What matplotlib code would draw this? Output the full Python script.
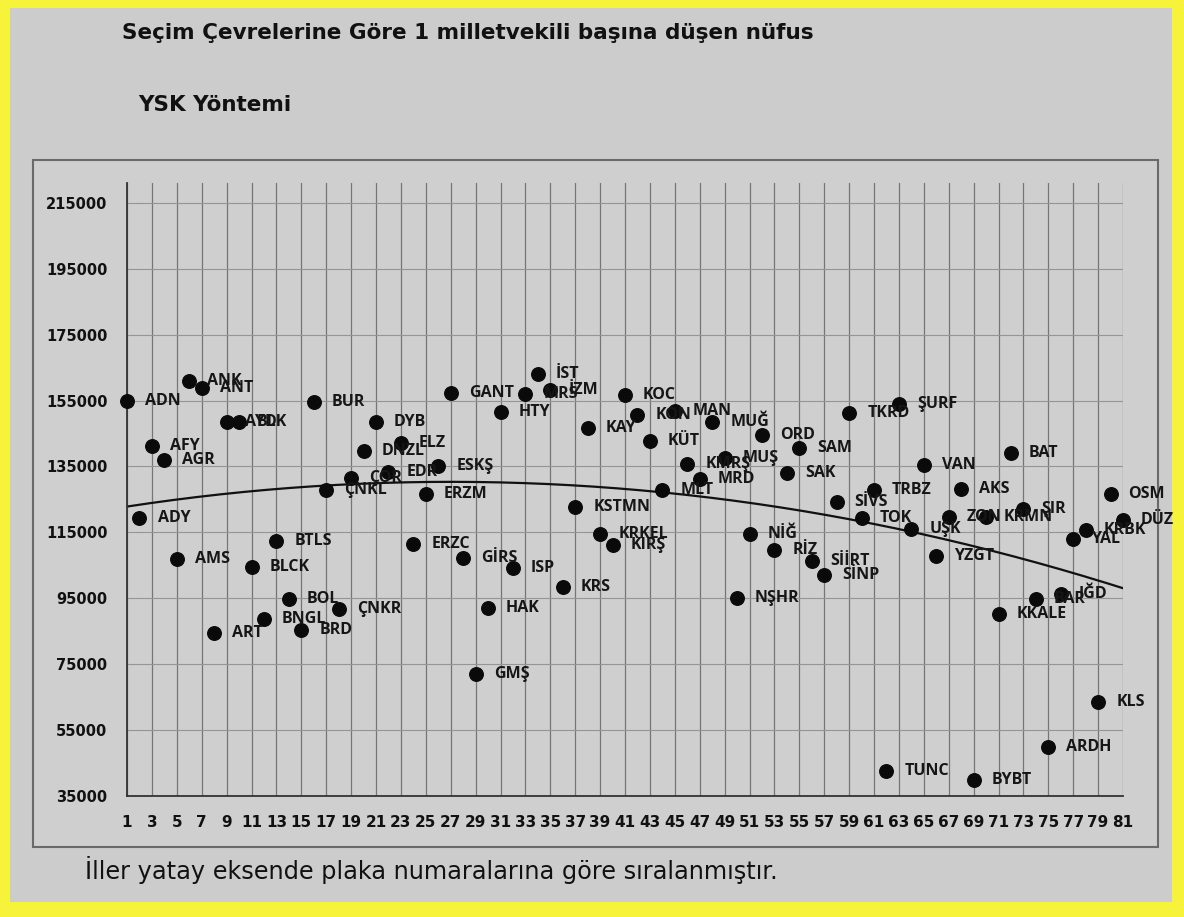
import numpy as np
import matplotlib
matplotlib.use("Agg")
import matplotlib.pyplot as plt
from matplotlib.patches import Rectangle

# ---- data ----
plate = list(range(1, 82))
codes = ["ADN","ADY","AFY","AGR","AMS","ANK","ANT","ART","AYD","BLK",
         "BLCK","BNGL","BTLS","BOL","BRD","BUR","ÇNKL","ÇNKR","ÇOR","DNZL",
         "DYB","EDR","ELZ","ERZC","ERZM","ESKŞ","GANT","GİRS","GMŞ","HAK",
         "HTY","ISP","MRS","İST","İZM","KRS","KSTMN","KAY","KRKEL","KIRŞ",
         "KOC","KON","KÜT","MLT","MAN","KMRŞ","MRD","MUĞ","MUŞ","NŞHR",
         "NİĞ","ORD","RİZ","SAK","SAM","SİİRT","SİNP","SİVS","TKRD","TOK",
         "TRBZ","TUNC","ŞURF","UŞK","VAN","YZGT","ZON","AKS","BYBT","KRMN",
         "KKALE","BAT","ŞIR","BAR","ARDH","IĞD","YAL","KRBK","KLS","OSM","DÜZ"]
pop_per_mp = [155000,119400,141200,137000,107000,161000,158800,84500,148500,148500,
              104500,88700,112400,94800,85400,154600,127900,91700,131500,139700,
              148500,133300,142100,111500,126700,135200,157300,107200,72000,92000,
              151600,104200,157000,163100,158200,98400,122700,146700,114500,111200,
              156700,150600,142700,127900,151900,135800,131200,148600,137600,95100,
              114500,144600,109700,133000,140600,106300,102100,124200,151200,119400,
              127900,42600,154000,116000,135500,107800,119700,128200,39800,119700,
              90200,139100,122100,94800,49900,96300,113000,115700,63500,126700,118800]
x_ticks = list(range(1, 82, 2))
y_ticks = list(range(35000, 215001, 20000))

title = "Seçim Çevrelerine Göre 1 milletvekili başına düşen nüfus"
subtitle = "YSK Yöntemi"
footer = "İller yatay eksende plaka numaralarına göre sıralanmıştır."

W, H = 1184, 917
fig = plt.figure(figsize=(W/100, H/100), dpi=100)
fig.patch.set_facecolor("#f7f23a")

def px_rect(x0, y0, x1, y1, **kw):
    return Rectangle((x0/W, 1-y1/H), (x1-x0)/W, (y1-y0)/H, transform=fig.transFigure, **kw)

fig.patches.append(px_rect(10, 8, 1172, 902, facecolor="#cccccc", edgecolor="none", zorder=-3))
fig.patches.append(px_rect(33, 160, 1158, 847, facecolor="#cfcfcf", edgecolor="#6a6a6a", lw=1.5, zorder=-2))

ax = fig.add_axes([127/W, 1-796/H, (1123-127)/W, (796-183)/H])
ax.set_zorder(2)
ax.set_facecolor("none")
ax.set_xlim(1, 81)
ax.set_ylim(35000, 221000)
ax.set_xticks(x_ticks)
ax.set_xticklabels([str(v) for v in x_ticks])
ax.set_yticks(y_ticks)
ax.set_yticklabels([str(v) for v in y_ticks])
ax.tick_params(axis="both", length=0)
ax.tick_params(axis="x", pad=14, labelsize=11)
ax.tick_params(axis="y", pad=14, labelsize=10.5)
for lab in ax.get_xticklabels() + ax.get_yticklabels():
    lab.set_fontweight("bold")
    lab.set_color("#111111")
ax.grid(axis="x", color="#767676", lw=0.9)
ax.grid(axis="y", color="#959595", lw=0.8)
ax.set_axisbelow(True)
for s in ["top", "right"]:
    ax.spines[s].set_visible(False)
for s in ["left", "bottom"]:
    ax.spines[s].set_color("#333333")
    ax.spines[s].set_linewidth(1.3)

# trend line (2nd order polynomial fit of the data)
coef = np.polyfit(plate, pop_per_mp, 2)
xs = np.linspace(1, 81, 300)
ax.plot(xs, np.polyval(coef, xs), color="#111111", lw=1.6, zorder=2)

ax.scatter(plate, pop_per_mp, s=95, color="#0a0a0a", zorder=3, clip_on=False)
for xv, yv, c in zip(plate, pop_per_mp, codes):
    ax.annotate(c, (xv, yv), xytext=(13, 0), textcoords="offset points",
                ha="left", va="center", fontsize=11.5, fontweight="bold",
                family=["Open Sans", "DejaVu Sans"], color="#161616",
                zorder=4, annotation_clip=False)

fig.text(122/W, 1-33/H, title, ha="left", va="center", fontsize=15.5,
         fontweight="bold", color="#111111")
fig.text(138/W, 1-105/H, subtitle, ha="left", va="center", fontsize=15.5,
         fontweight="bold", color="#111111")
fig.text(85/W, 1-870/H, footer, ha="left", va="center", fontsize=17.3,
         color="#111111")

fig.savefig("out.png", dpi=100, facecolor=fig.get_facecolor())
